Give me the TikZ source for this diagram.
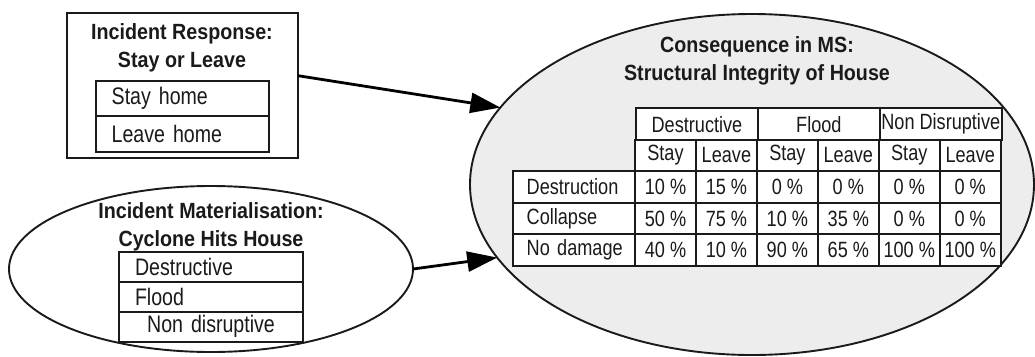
\documentclass[tikz,border=0pt]{standalone}
\usepackage{fontspec}
\setmainfont[FakeStretch=0.82]{Liberation Sans}
\newfontfamily\headfont[FakeStretch=0.895]{Liberation Sans}
\usetikzlibrary{shapes.geometric,arrows.meta}
\definecolor{consfill}{HTML}{EDEDED}
\definecolor{ink}{HTML}{1A1A1A}

\begin{document}
\begin{tikzpicture}[x=1pt,y=-1pt,
  every node/.style={inner sep=0pt, outer sep=0pt, text=ink},
  title/.style={font=\headfont\fontsize{22}{28}\selectfont\bfseries, align=center},
  frame/.style={draw=ink, line width=1.9pt},
  itembox/.style={draw=ink, line width=1.8pt, fill=white, font=\fontsize{23.9}{28}\selectfont},
  cell/.style={draw=ink, line width=1.8pt, fill=white, font=\fontsize{22.1}{26}\selectfont,
    minimum width=60.95pt, minimum height=31.68pt},
  rowlab/.style={cell, minimum width=122.3pt, text width=122.3pt, align=left},
  link/.style={draw=black, line width=2.8pt, -{Triangle[length=30pt,width=20pt]}}
]
\useasboundingbox (0,0) rectangle (1035,356);

% --- Incident response node
\node[frame, minimum width=231pt, minimum height=145pt] (resp) at (182.5,85.5) {};
\node[title] (resptitle) at (182,47.5) {Incident Response:\\Stay or Leave};
\node[itembox, minimum height=35.6pt, text width=172.7pt, align=left]
  (stay) at (182.35,98.5) {\hspace*{15.7pt}Stay home};
\node[itembox, minimum height=35.4pt, text width=172.7pt, align=left]
  (leave) at (182.35,134) {\hspace*{15.7pt}Leave home};

% --- Incident materialisation node
\node[ellipse, frame, fill=white, minimum width=404pt, minimum height=166pt] (inc) at (211,269) {};
\node[title] (inctitle) at (211,226.5) {Incident Materialisation:\\Cyclone Hits House};
\node[itembox, minimum height=29.8pt, text width=184pt, align=left]
  (destr) at (211,267.15) {\hspace*{16pt}Destructive};
\node[itembox, minimum height=29.8pt, text width=184pt, align=left]
  (flood) at (211,296.85) {\hspace*{16pt}Flood};
\node[itembox, minimum height=30pt, text width=184pt, align=center]
  (nondis) at (211,326.7) {Non disruptive};

% --- Consequence node
\node[ellipse, frame, fill=consfill, minimum width=564pt, minimum height=341pt] (cons) at (752,184.5) {};
\node[title] (constitle) at (757,61) {Consequence in MS:\\Structural Integrity of House};

% conditional probability table
\foreach \h [count=\i from 0] in {Destructive,Flood,Non Disruptive}
  \node[cell, minimum width=121.9pt] (grp\i) at ({696.95+121.9*\i},124.15) {\h};
\foreach \i in {0,...,5}
  \node[cell] (sub\i) at ({665.475+60.95*\i},155.5) {\ifodd\i Leave\else Stay\fi};
\foreach \lab [count=\r from 0] in {Destruction,Collapse,No damage}
  \node[rowlab] (lab\r) at (573.85,{186.85+31.68*\r}) {\hspace*{14pt}\lab};
\foreach \v [count=\c from 0] in {10,15,0,0,0,0}
  \node[cell] (da\c) at ({665.475+60.95*\c},186.85) {\v\ \%};
\foreach \v [count=\c from 0] in {50,75,10,35,0,0}
  \node[cell] (db\c) at ({665.475+60.95*\c},218.53) {\v\ \%};
\foreach \v [count=\c from 0] in {40,10,90,65,100,100}
  \node[cell] (dc\c) at ({665.475+60.95*\c},250.21) {\v\ \%};

% --- influences
\draw[link] ([yshift=9.8pt]resp.east) -- (cons.163.7);
\draw[link] (inc.-0.8) -- (cons.196.6);
\end{tikzpicture}
\end{document}
